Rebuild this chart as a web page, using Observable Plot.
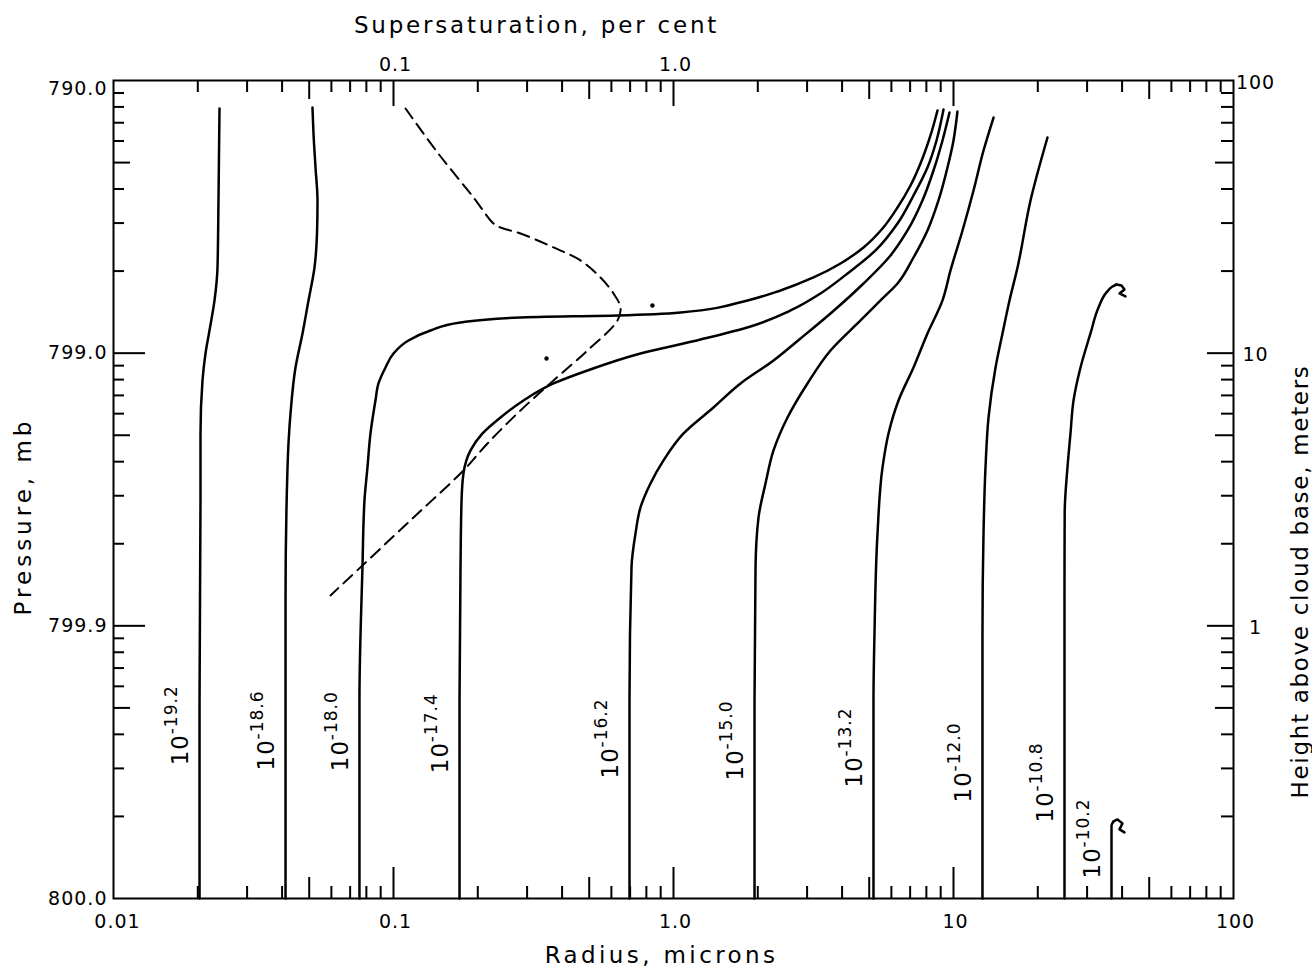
<!DOCTYPE html>
<html><head><meta charset="utf-8">
<script src="https://cdn.jsdelivr.net/npm/d3@7"></script>
<script src="https://cdn.jsdelivr.net/npm/@observablehq/plot@0.6"></script>
<style>body{margin:0;background:#fff;} #chart svg{display:block;}</style>
</head><body><div id="chart"></div>
<script>
// ---- Data: droplet radius (microns) vs height above cloud base (m) for each nucleus mass label ----
const exponents = ["-19.2","-18.6","-18.0","-17.4","-16.2","-15.0","-13.2","-12.0","-10.8","-10.2"];
const labelHeights = [0.308,0.295,0.293,0.288,0.2756,0.271,0.2555,0.225,0.190,0.1185];

const r192 = [0.02029,0.02029,0.02045,0.02045,0.02079,0.02131,0.02202,0.02295,0.02352,0.02371,0.02391];
const h192 = [0.1,0.5325,2.883,5.077,7.941,9.975,12.11,15.61,20.62,36.31,78.94];
const r186 = [0.04115,0.04115,0.04183,0.04287,0.04467,0.04732,0.04971,0.05222,0.05331,0.05353,0.05266,0.05179,0.05136];
const h186 = [0.1,1.239,3.81,6.009,8.863,11.81,15.61,20.62,27.47,36.31,47.97,63.92,79.62];
const r180 = [0.07558,0.07558,0.07747,0.07876,0.08073,0.08275,0.08622,0.08838,0.09363,0.1,0.1131,0.1356,0.1735,0.2842,0.631,1.059,1.838,2.411,3.162,3.949,4.771,5.578,6.310,7.022,7.623,8.276,8.767];
const h180 = [0.1,0.5325,1.637,2.883,3.81,5.077,6.707,7.743,8.863,9.975,11.13,12.11,12.96,13.52,13.75,14.10,15.61,16.98,18.95,21.33,24.42,28.66,34.22,41.21,49.62,62.85,77.62];
const r174 = [0.1721,0.1721,0.1735,0.1750,0.1778,0.1884,0.2079,0.2411,0.2913,0.3728,0.4930,0.7623,1.249,1.884,2.618,3.350,4.183,5.266,6.310,7.197,8.073,8.696,9.211];
const h174 = [0.1,0.5325,1.637,2.883,3.622,4.398,5.077,5.811,6.707,7.743,8.642,9.975,11.22,12.53,14.34,16.56,19.60,23.81,29.89,37.87,47.97,60.26,78.29];
const r162 = [0.6964,0.6964,0.7079,0.7316,0.7623,0.8275,0.9211,1.086,1.389,1.735,2.276,2.842,3.637,4.771,5.957,6.850,7.747,8.483,9.135,9.676];
const h162 = [0.1,0.5325,1.637,2.182,2.718,3.328,4.042,5.077,6.322,7.743,9.401,11.32,13.98,18.01,22.82,28.18,36.31,46.77,60.26,76.33];
const r150 = [1.947,1.947,1.963,2.012,2.131,2.276,2.554,3.010,3.637,4.655,5.487,6.310,7.197,8.073,8.838,9.518,10.0,10.33];
const h150 = [0.1,0.5325,1.637,2.497,3.328,4.398,5.811,7.743,10.23,13.18,15.61,18.01,22.43,28.18,36.31,47.97,60.26,76.97];
const r132 = [5.179,5.179,5.222,5.353,5.578,5.860,6.362,7.197,8.073,9.135,9.756,10.77,11.79,12.80,13.90];
const h132 = [0.1,0.5325,0.938,2.182,3.81,5.077,6.707,8.863,11.81,15.61,20.11,28.18,39.51,55.37,73.15];
const r120 = [12.69,12.69,12.69,12.80,13.01,13.34,14.13,14.96,15.85,16.93,18.84,21.66];
const h120 = [0.1,0.5325,0.938,2.182,3.81,5.811,8.863,11.81,15.61,20.62,36.31,61.80];
const r108 = [24.91,24.91,24.95,25.53,26.17,26.83,28.42,30.85,32.95,35.19,36.97,38.21];
const h108 = [0.1,1.239,2.584,3.81,5.077,6.707,8.863,11.81,14.71,16.70,17.56,17.86];
const hook108R = [38.21,39.81,40.80,39.16,41.14];
const hook108H = [17.86,17.71,17.12,16.56,16.14];
const r102 = [36.67,36.67,37.28];
const h102 = [0.1,0.1854,0.1917];
const hook102R = [37.28,38.52,40.13,39.16,40.80];
const hook102H = [0.1917,0.195,0.1886,0.1793,0.1747];

// dashed curve: supersaturation (per cent, top axis) vs height (m)
const supersat = [0.1104,0.1436,0.1931,0.2276,0.2411,0.2842,0.3728,0.4655,0.5487,0.6105,0.6467,0.631,0.4930,0.3728,0.2842,0.2166,0.1778,0.1179,0.07814,0.05957];
const supersatH = [78.94,54.45,37.24,29.89,28.90,27.47,24.42,21.88,18.95,16.56,14.71,13.18,10.23,7.941,6.166,4.665,3.715,2.497,1.679,1.293];

// isolated dots
const dotR = [0.841,0.352];
const dotH = [14.96,9.56];

// axes
const xTickValues = [0.01,0.1,1,10,100];
const xTickLabels = ["0.01","0.1","1.0","10","100"];
const topTickValues = [0.1,1];
const topTickLabels = ["0.1","1.0"];
const pressureHeights = [100,10,1,0.1];
const pressureLabels = ["790.0","799.0","799.9","800.0"];
const heightTickValues = [100,10,1];
const heightTickLabels = ["100","10","1"];

// ---- build tables ----
const curveR = [r192,r186,r180,r174,r162,r150,r132,r120,r108,r102];
const curveH = [h192,h186,h180,h174,h162,h150,h132,h120,h108,h102];
const curveRows = curveR.flatMap((rs,ci)=>rs.map((r,j)=>({id:ci,r,h:curveH[ci][j]})));
const hookRows = [
  ...hook108R.map((r,j)=>({id:0,r,h:hook108H[j]})),
  ...hook102R.map((r,j)=>({id:1,r,h:hook102H[j]}))
];
const dashRows = supersat.map((s,j)=>({s,h:supersatH[j]}));
const dotRows = dotR.map((r,j)=>({r,h:dotH[j]}));
const labelRows = exponents.map((e,i)=>({e,r:curveR[i][0],h:labelHeights[i]}));

const W=1312,H=969,mL=113,mR=79,mT=80,mB=71;
const fw=W-mL-mR, fh=H-mT-mB;
const decX=[0.01,0.1,1,10];
const minorX=decX.flatMap(d=>[2,3,4,6,7,8,9].map(k=>k*d));
const midX=decX.map(d=>5*d);
const majorX=[0.1,1,10];
const decY=[0.1,1,10];
const minorY=decY.flatMap(d=>[2,3,4,6,7,8,9].map(k=>k*d));
const midY=decY.map(d=>5*d);
const majorY=[1,10];
const tick={stroke:"black",strokeWidth:2};
const mid={lineAnchor:"middle"};

const plot = Plot.plot({
  width:W, height:H,
  marginLeft:mL, marginRight:mR, marginTop:mT, marginBottom:mB,
  x:{type:"log",domain:[0.01,100],axis:null},
  y:{type:"log",domain:[0.1,100],axis:null},
  style:{fontFamily:"'DejaVu Sans', sans-serif",fontSize:"19px",color:"black",background:"white",overflow:"visible"},
  marks:[
    Plot.frame({stroke:"black",strokeWidth:2}),
    // bottom ticks (inward)
    Plot.ruleX(minorX,{...tick,insetTop:fh-12}),
    Plot.ruleX(midX,{...tick,insetTop:fh-21}),
    Plot.ruleX(majorX,{...tick,insetTop:fh-31}),
    // top ticks
    Plot.ruleX(minorX,{...tick,insetBottom:fh-12}),
    Plot.ruleX(midX,{...tick,insetBottom:fh-19}),
    Plot.ruleX(majorX,{...tick,insetBottom:fh-26}),
    // left ticks
    Plot.ruleY(minorY,{...tick,insetRight:fw-11}),
    Plot.ruleY(midY,{...tick,insetRight:fw-17}),
    Plot.ruleY(majorY,{...tick,insetRight:fw-32}),
    // right ticks
    Plot.ruleY(minorY,{...tick,insetLeft:fw-12}),
    Plot.ruleY(midY,{...tick,insetLeft:fw-18}),
    Plot.ruleY(majorY,{...tick,insetLeft:fw-26}),
    // tick labels
    Plot.text(xTickValues.slice(0,1),{...mid,x:d=>d,text:(d,i)=>xTickLabels[i],frameAnchor:"bottom",textAnchor:"middle",dx:4,dy:23,fontSize:19}),
    Plot.text(xTickValues.slice(1),{...mid,x:d=>d,text:(d,i)=>xTickLabels[i+1],frameAnchor:"bottom",textAnchor:"middle",dx:2,dy:23,fontSize:19}),
    Plot.text(topTickValues,{...mid,x:d=>d,text:(d,i)=>topTickLabels[i],frameAnchor:"top",textAnchor:"middle",dx:2,dy:-16,fontSize:19}),
    Plot.text(pressureHeights.slice(0,1),{...mid,y:d=>d,text:(d,i)=>pressureLabels[i],frameAnchor:"left",textAnchor:"end",dx:-6,dy:8,fontSize:19}),
    Plot.text(pressureHeights.slice(1),{...mid,y:d=>d,text:(d,i)=>pressureLabels[i+1],frameAnchor:"left",textAnchor:"end",dx:-6,fontSize:19}),
    Plot.text(heightTickValues,{...mid,y:d=>d,text:(d,i)=>heightTickLabels[i],frameAnchor:"right",textAnchor:"middle",dx:22,dy:2,fontSize:19}),
    // axis titles
    Plot.text(["Supersaturation, per cent"],{...mid,text:d=>d,frameAnchor:"top",textAnchor:"middle",dx:-137,dy:-55,fontSize:23}),
    Plot.text(["Radius, microns"],{...mid,text:d=>d,frameAnchor:"bottom",textAnchor:"middle",dx:-12,dy:57,fontSize:23}),
    Plot.text(["Pressure, mb"],{...mid,text:d=>d,frameAnchor:"left",textAnchor:"middle",rotate:-90,dx:-90,dy:27,fontSize:23}),
    Plot.text(["Height above cloud base, meters"],{...mid,text:d=>d,frameAnchor:"right",textAnchor:"middle",rotate:-90,dx:67,dy:92,fontSize:23}),
    // curves
    Plot.line(curveRows,{x:"r",y:"h",z:"id",curve:"monotone-y",stroke:"black",strokeWidth:2.5}),
    Plot.line(hookRows,{x:"r",y:"h",z:"id",curve:"linear",stroke:"black",strokeWidth:2.5}),
    Plot.line(dashRows,{x:"s",y:"h",curve:"catmull-rom",stroke:"black",strokeWidth:2,strokeDasharray:"12,7"}),
    Plot.dot(dotRows,{x:"r",y:"h",r:2.2,fill:"black"}),
    // curve labels 10^exponent
    Plot.text(labelRows,{...mid,x:"r",y:"h",text:()=>"10",rotate:-90,textAnchor:"start",dx:-19,fontSize:23}),
    Plot.text(labelRows,{...mid,x:"r",y:"h",text:"e",rotate:-90,textAnchor:"start",dx:-28,dy:-31,fontSize:17})
  ]
});
document.getElementById("chart").append(plot);
const spacing = {"Supersaturation, per cent":"2.8px","Radius, microns":"3.4px","Pressure, mb":"4px","Height above cloud base, meters":"1.7px"};
d3.select(plot).selectAll("text").each(function(){
  const t=this.textContent;
  if (spacing[t]) this.style.letterSpacing=spacing[t];
  else if (/^[0-9.\-]+$/.test(t)) this.style.letterSpacing="1px";
});
</script>
</body></html>
